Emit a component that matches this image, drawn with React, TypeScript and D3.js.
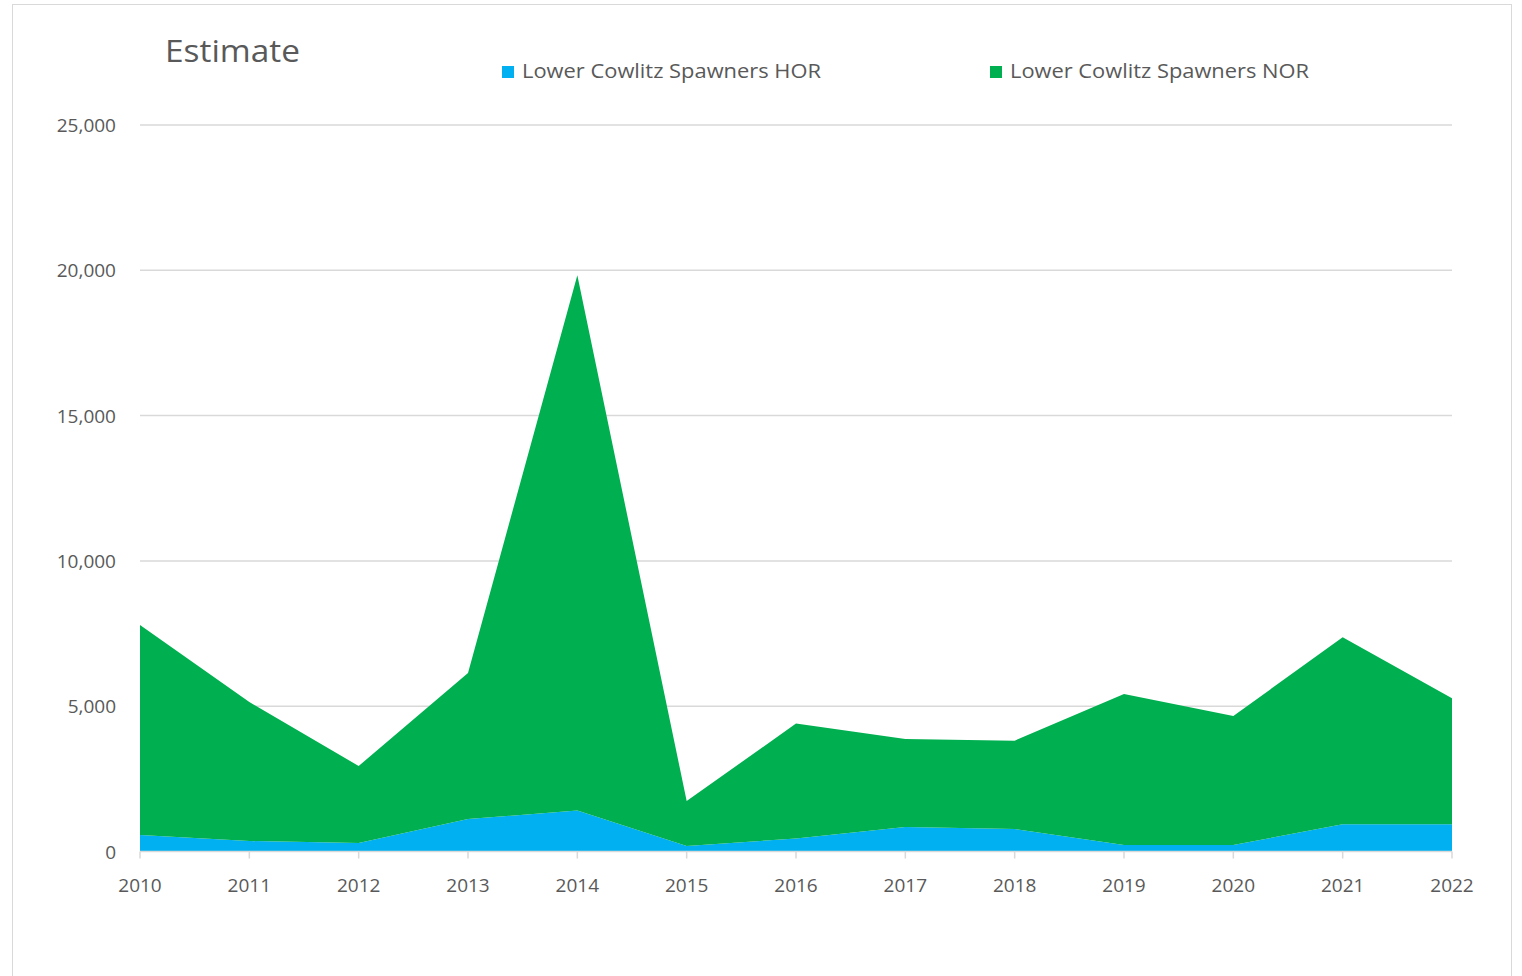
import * as d3 from 'd3';

const years = [2010, 2011, 2012, 2013, 2014, 2015, 2016, 2017, 2018, 2019, 2020, 2021, 2022];
const horValues = [568, 361, 292, 1118, 1407, 190, 447, 843, 774, 224, 224, 936, 936];
const norValues = [7226, 4783, 2650, 5025, 18421, 1548, 3954, 3028, 3039, 5196, 4439, 6435, 4336];
const yTicks = [0, 5000, 10000, 15000, 20000, 25000];
const seriesNames = ['Lower Cowlitz Spawners HOR', 'Lower Cowlitz Spawners NOR'];
const seriesColors = ['#00b0f0', '#00b050'];

const W = 1522;
const H = 976;
const FONT = '"Open Sans", "Noto Sans", sans-serif';

export default function App() {
  const x = d3.scaleLinear().domain([2010, 2022]).range([140, 1452]);
  const y = d3.scaleLinear().domain([0, 25000]).range([851.5, 125]);

  const rows = years.map((yr, i) => ({ year: yr, hor: horValues[i], nor: norValues[i] }));
  const stacked = d3.stack<any>().keys(['hor', 'nor'])(rows);

  const area = d3
    .area<any>()
    .x((d) => x(d.data.year))
    .y0((d) => y(d[0]))
    .y1((d) => y(d[1]));

  const fmt = d3.format(',');
  const legendPos = [502, 990];

  return (
    <svg width={W} height={H} style={{ position: 'absolute', left: 0, top: 0, display: 'block' }}>
      <rect x={0} y={0} width={W} height={H} fill="#fff" />
      <rect x={12.5} y={4.5} width={1499} height={975} fill="none" stroke="#d9d9d9" />

      <text x={165} y={62} fontFamily={FONT} fontSize={31} fill="#595959" textLength={135} lengthAdjust="spacingAndGlyphs">
        Estimate
      </text>

      {seriesNames.map((name, i) => (
        <g key={name}>
          <rect x={legendPos[i]} y={66} width={12} height={12} fill={seriesColors[i]} />
          <text
            x={legendPos[i] + 20}
            y={78}
            fontFamily={FONT}
            fontSize={20}
            fill="#595959"
            textLength={299}
            lengthAdjust="spacingAndGlyphs"
          >
            {name}
          </text>
        </g>
      ))}

      {yTicks.map((t) => (
        <g key={t}>
          {t > 0 && <line x1={140} x2={1452} y1={y(t)} y2={y(t)} stroke="#d9d9d9" strokeWidth={1.5} />}
          <text x={116} y={y(t) + 7} textAnchor="end" fontFamily={FONT} fontSize={19} fill="#595959">
            {fmt(t)}
          </text>
        </g>
      ))}

      {stacked.map((s, i) => (
        <path key={s.key} d={area(s) ?? ''} fill={seriesColors[i]} />
      ))}

      <line x1={140} x2={1452} y1={y(0)} y2={y(0)} stroke="#d9d9d9" strokeWidth={1.5} />
      {years.map((yr) => (
        <g key={yr}>
          <line x1={x(yr)} x2={x(yr)} y1={y(0)} y2={y(0) + 7} stroke="#d9d9d9" strokeWidth={1.5} />
          <text x={x(yr)} y={892} textAnchor="middle" fontFamily={FONT} fontSize={19} fill="#595959">
            {yr}
          </text>
        </g>
      ))}
    </svg>
  );
}
